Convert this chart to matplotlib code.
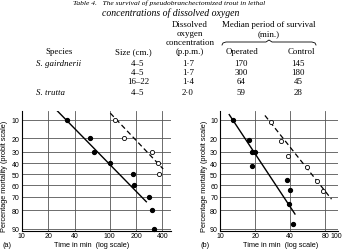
import matplotlib
matplotlib.use("Agg")
import matplotlib.pyplot as plt
from matplotlib.lines import Line2D
from statistics import NormalDist

# table data
species = ["S. gairdnerii", "", "", "S. trutta"]
sizes = ["4\u20135", "4\u20135", "16\u201322", "4\u20135"]
oxygen = ["1\u00b77", "1\u00b77", "1\u00b74", "2\u00b70"]
operated = ["170", "300", "64", "59"]
control = ["145", "180", "45", "28"]

# panel (a)
a_op_t = [33, 60, 67, 102, 185, 190, 284, 305, 317]
a_op_p = [10, 20, 30, 40, 50, 60, 70, 80, 90]
a_ct_t = [114, 147, 305, 353, 369]
a_ct_p = [10, 20, 30, 40, 50]
a_fit_op_t = [25.5, 262]
a_fit_op_p = [6.9, 74]
a_fit_ct_t = [102, 407]
a_fit_ct_p = [7.6, 45]

# panel (b)
b_op_t = [13.0, 17.8, 19.0, 20.0, 19.0, 37.8, 39.8, 39.3, 42]
b_op_p = [10, 21, 30, 30, 42.5, 55, 64, 75.7, 88]
b_ct_t = [27.4, 33.7, 38.3, 55.3, 67.4, 75.9]
b_ct_p = [11, 21.5, 33, 43.5, 56, 65]
b_fit_op_t = [12.0, 44]
b_fit_op_p = [8.1, 82.4]
b_fit_ct_t = [24.3, 90.6]
b_fit_ct_p = [8.4, 72]

pct_ticks = [10, 20, 30, 40, 50, 60, 70, 80, 90]

nd = NormalDist()
def probit(vals):
    return [nd.inv_cdf(v / 100.0) for v in vals]

W, H = 346, 253
fig = plt.figure(figsize=(W / 100, H / 100), dpi=100)
fig.patch.set_facecolor("white")

def fx(x):
    return x / W

def fy(y):
    return 1 - y / H

serif = "Liberation Serif"
sans = "Liberation Sans"
tfs = 6.4

# title
fig.text(fx(169), fy(0.2), "Table 4.   The survival of pseudobranchectomized trout in lethal",
         ha="center", va="top", fontsize=5.4, style="italic", family=serif)
fig.text(fx(171), fy(13), "concentrations of dissolved oxygen",
         ha="center", va="center", fontsize=7.0, style="italic", family=serif)

# headers
for i, s in enumerate(["Dissolved", "oxygen", "concentration"]):
    fig.text(fx(190), fy(25 + 8.8 * i), s, ha="center", va="center", fontsize=tfs, family=serif)
fig.text(fx(269), fy(25), "Median period of survival", ha="center", va="center", fontsize=tfs, family=serif)
fig.text(fx(269), fy(34), "(min.)", ha="center", va="center", fontsize=tfs, family=serif)
hy = 52.5
fig.text(fx(59), fy(hy), "Species", ha="center", va="center", fontsize=tfs, family=serif)
fig.text(fx(133), fy(hy), "Size (cm.)", ha="center", va="center", fontsize=tfs, family=serif)
fig.text(fx(190), fy(hy), "(p.p.m.)", ha="center", va="center", fontsize=tfs, family=serif)
fig.text(fx(242), fy(hy), "Operated", ha="center", va="center", fontsize=tfs, family=serif)
fig.text(fx(301), fy(hy), "Control", ha="center", va="center", fontsize=tfs, family=serif)

# brace over Operated / Control
bx = [222, 223, 226, 266, 269, 272, 312, 315, 316]
by = [46, 44, 43, 43, 41, 43, 43, 44, 46]
fig.add_artist(Line2D([fx(v) for v in bx], [fy(v) for v in by], color="black", lw=0.6))

rows_y = [63.5, 72.8, 82, 93.5]
for i, ry in enumerate(rows_y):
    if species[i]:
        fig.text(fx(36), fy(ry), species[i], ha="left", va="center", fontsize=tfs, style="italic", family=serif)
    fig.text(fx(138), fy(ry), sizes[i], ha="center", va="center", fontsize=tfs, family=serif)
    fig.text(fx(188), fy(ry), oxygen[i], ha="center", va="center", fontsize=tfs, family=serif)
    fig.text(fx(241), fy(ry), operated[i], ha="center", va="center", fontsize=tfs, family=serif)
    fig.text(fx(298), fy(ry), control[i], ha="center", va="center", fontsize=tfs, family=serif)

ylo = nd.inv_cdf(0.069)
yhi = nd.inv_cdf(0.908)

def panel(rect, xlim, xticks, vgrid, op_t, op_p, ct_t, ct_p, fo_t, fo_p, fc_t, fc_p):
    ax = fig.add_axes(rect)
    ax.set_xscale("log")
    ax.set_xlim(*xlim)
    ax.set_ylim(yhi, ylo)
    for v in vgrid:
        ax.axvline(v, color="#555555", lw=0.6, zorder=1)
    for p in probit(pct_ticks):
        ax.axhline(p, color="#555555", lw=0.6, zorder=1)
    ax.plot(fo_t, probit(fo_p), color="black", lw=1.0, zorder=3)
    ax.plot(fc_t, probit(fc_p), color="black", lw=0.9, ls=(0, (4, 2.5)), zorder=3)
    ax.plot(op_t, probit(op_p), "o", ms=2.8, color="black", zorder=4, clip_on=False)
    ax.plot(ct_t, probit(ct_p), "o", ms=3.0, mfc="white", mec="black", mew=0.6, zorder=4, clip_on=False)
    ax.set_xticks(xticks)
    ax.set_xticklabels([str(t) for t in xticks])
    ax.xaxis.set_minor_locator(matplotlib.ticker.NullLocator())
    ax.set_yticks(probit(pct_ticks))
    ax.set_yticklabels([str(t) for t in pct_ticks])
    ax.tick_params(length=0, labelsize=5, pad=1.5)
    ax.tick_params(axis="x", pad=0.8)
    for lab in ax.get_xticklabels() + ax.get_yticklabels():
        lab.set_family(sans)
    ax.spines["top"].set_visible(False)
    ax.spines["right"].set_visible(False)
    ax.spines["left"].set_linewidth(0.8)
    ax.spines["bottom"].set_linewidth(0.8)
    ax.patch.set_alpha(0)
    return ax

top, bot = 112, 232
axa = panel([fx(21.7), fy(bot), fx(171) - fx(21.7), (bot - top) / H], (10, 500),
            [10, 20, 40, 100, 200, 400], [20, 40, 100, 200, 400],
            a_op_t, a_op_p, a_ct_t, a_ct_p, a_fit_op_t, a_fit_op_p, a_fit_ct_t, a_fit_ct_p)
axb = panel([fx(220), fy(bot), fx(338) - fx(220), (bot - top) / H], (10, 103),
            [10, 20, 40, 80, 100], [20, 40, 80],
            b_op_t, b_op_p, b_ct_t, b_ct_p, b_fit_op_t, b_fit_op_p, b_fit_ct_t, b_fit_ct_p)

lfs = 5.3
fig.text(fx(4.5), fy(176), "Percentage mortality (probit scale)", rotation=90, ha="center", va="center",
         fontsize=lfs, family=sans)
fig.text(fx(204), fy(176), "Percentage mortality (probit scale)", rotation=90, ha="center", va="center",
         fontsize=lfs, family=sans)
fig.text(fx(92), fy(245.5), "Time in min  (log scale)", ha="center", va="center", fontsize=lfs, family=sans)
fig.text(fx(281), fy(245.5), "Time in min  (log scale)", ha="center", va="center", fontsize=lfs, family=sans)
fig.text(fx(7), fy(245.5), "(a)", ha="center", va="center", fontsize=lfs, family=sans)
fig.text(fx(205), fy(245.5), "(b)", ha="center", va="center", fontsize=lfs, family=sans)

fig.savefig("out.png", dpi=100, facecolor="white")
